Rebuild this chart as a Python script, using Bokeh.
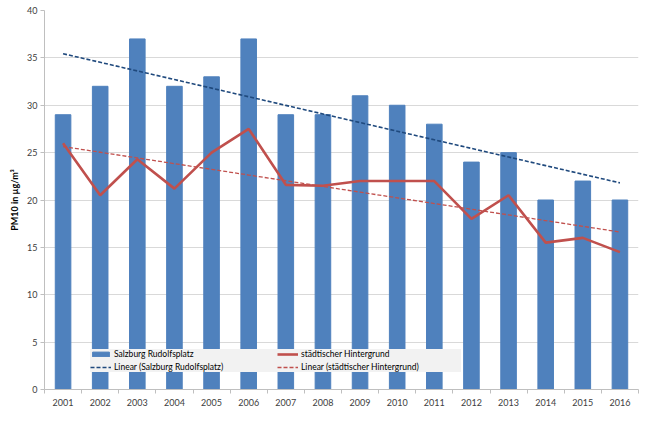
import numpy as np
from bokeh.plotting import figure
from bokeh.models import FixedTicker, Legend, LegendItem, Range1d, ColumnDataSource
from bokeh.embed import file_html
from bokeh.resources import INLINE

years = [2001, 2002, 2003, 2004, 2005, 2006, 2007, 2008, 2009, 2010, 2011, 2012, 2013, 2014, 2015, 2016]
rudolfsplatz = [29, 32, 37, 32, 33, 37, 29, 29, 31, 30, 28, 24, 25, 20, 22, 20]
hintergrund = [26, 20.5, 24.3, 21.2, 25, 27.5, 21.6, 21.5, 22, 22, 22, 18, 20.5, 15.5, 16, 14.5]
y_ticks = [0, 5, 10, 15, 20, 25, 30, 35, 40]

x = np.array(years, dtype=float)
fit_r = np.polyfit(x, rudolfsplatz, 1)
fit_h = np.polyfit(x, hintergrund, 1)
trend_r = list(np.polyval(fit_r, x))
trend_h = list(np.polyval(fit_h, x))

src = ColumnDataSource(dict(x=years, r=rudolfsplatz, h=hintergrund, tr=trend_r, th=trend_h))

FONT = "Lato"
p = figure(width=641, height=408, output_backend="svg", toolbar_location=None,
           x_range=Range1d(2000.5, 2016.5), y_range=Range1d(0, 40),
           min_border_left=44, min_border_right=3, min_border_top=10, min_border_bottom=0)
p.outline_line_color = None
p.background_fill_color = "white"

bars = p.vbar(x="x", top="r", width=0.42, source=src, color="#4F81BD")
tr = p.line(x="x", y="tr", source=src, line_color="#1F497D", line_width=1.6, line_dash="4 2")
line = p.line(x="x", y="h", source=src, line_color="#C0504D", line_width=2.6)
th = p.line(x="x", y="th", source=src, line_color="#C0504D", line_width=1.3, line_dash="4 2")

p.xaxis.ticker = FixedTicker(ticks=years, minor_ticks=[y - 0.5 for y in years] + [years[-1] + 0.5])
p.xaxis.major_tick_line_color = None
p.xaxis.major_tick_out = 0
p.xaxis.major_tick_in = 0
p.xaxis.minor_tick_line_color = "#BFBFBF"
p.xaxis.minor_tick_out = 4
p.xaxis.minor_tick_in = 0
p.xaxis.axis_line_color = "#BFBFBF"
p.xaxis.major_label_standoff = 5

p.yaxis.ticker = FixedTicker(ticks=y_ticks, minor_ticks=[])
p.yaxis.axis_line_color = "#BFBFBF"
p.yaxis.major_tick_line_color = "#BFBFBF"
p.yaxis.major_tick_out = 4
p.yaxis.major_tick_in = 0
p.yaxis.minor_tick_line_color = None
p.yaxis.axis_label = "PM10 in µg/m³"
p.yaxis.axis_label_text_font = FONT
p.yaxis.axis_label_text_font_style = "bold"
p.yaxis.axis_label_text_font_size = "9px"
p.yaxis.axis_label_text_color = "#000000"
p.yaxis.axis_label_standoff = 4
p.yaxis.major_label_standoff = 3

for ax in (p.xaxis, p.yaxis):
    ax.major_label_text_font = FONT
    ax.major_label_text_font_size = "9px"
    ax.major_label_text_color = "#404040"

p.xgrid.grid_line_color = None
p.ygrid.grid_line_color = "#D9D9D9"

legend = Legend(items=[
    LegendItem(label="Salzburg Rudolfsplatz", renderers=[bars]),
    LegendItem(label="Linear (Salzburg Rudolfsplatz)", renderers=[tr]),
    LegendItem(label="städtischer Hintergrund", renderers=[line]),
    LegendItem(label="Linear (städtischer Hintergrund)", renderers=[th]),
], location=(46, 17), ncols=2)
legend.background_fill_color = "#F2F2F2"
legend.background_fill_alpha = 1
legend.border_line_color = None
legend.label_text_font = FONT
legend.label_text_font_size = "8.5px"
legend.label_text_color = "#000000"
legend.glyph_width = 21
legend.glyph_height = 6
legend.label_height = 10
legend.label_width = 160
legend.label_standoff = 3
legend.spacing = 3
legend.padding = 4
legend.margin = 0
p.add_layout(legend, "center")

open("out.html", "w").write(file_html(p, INLINE))
